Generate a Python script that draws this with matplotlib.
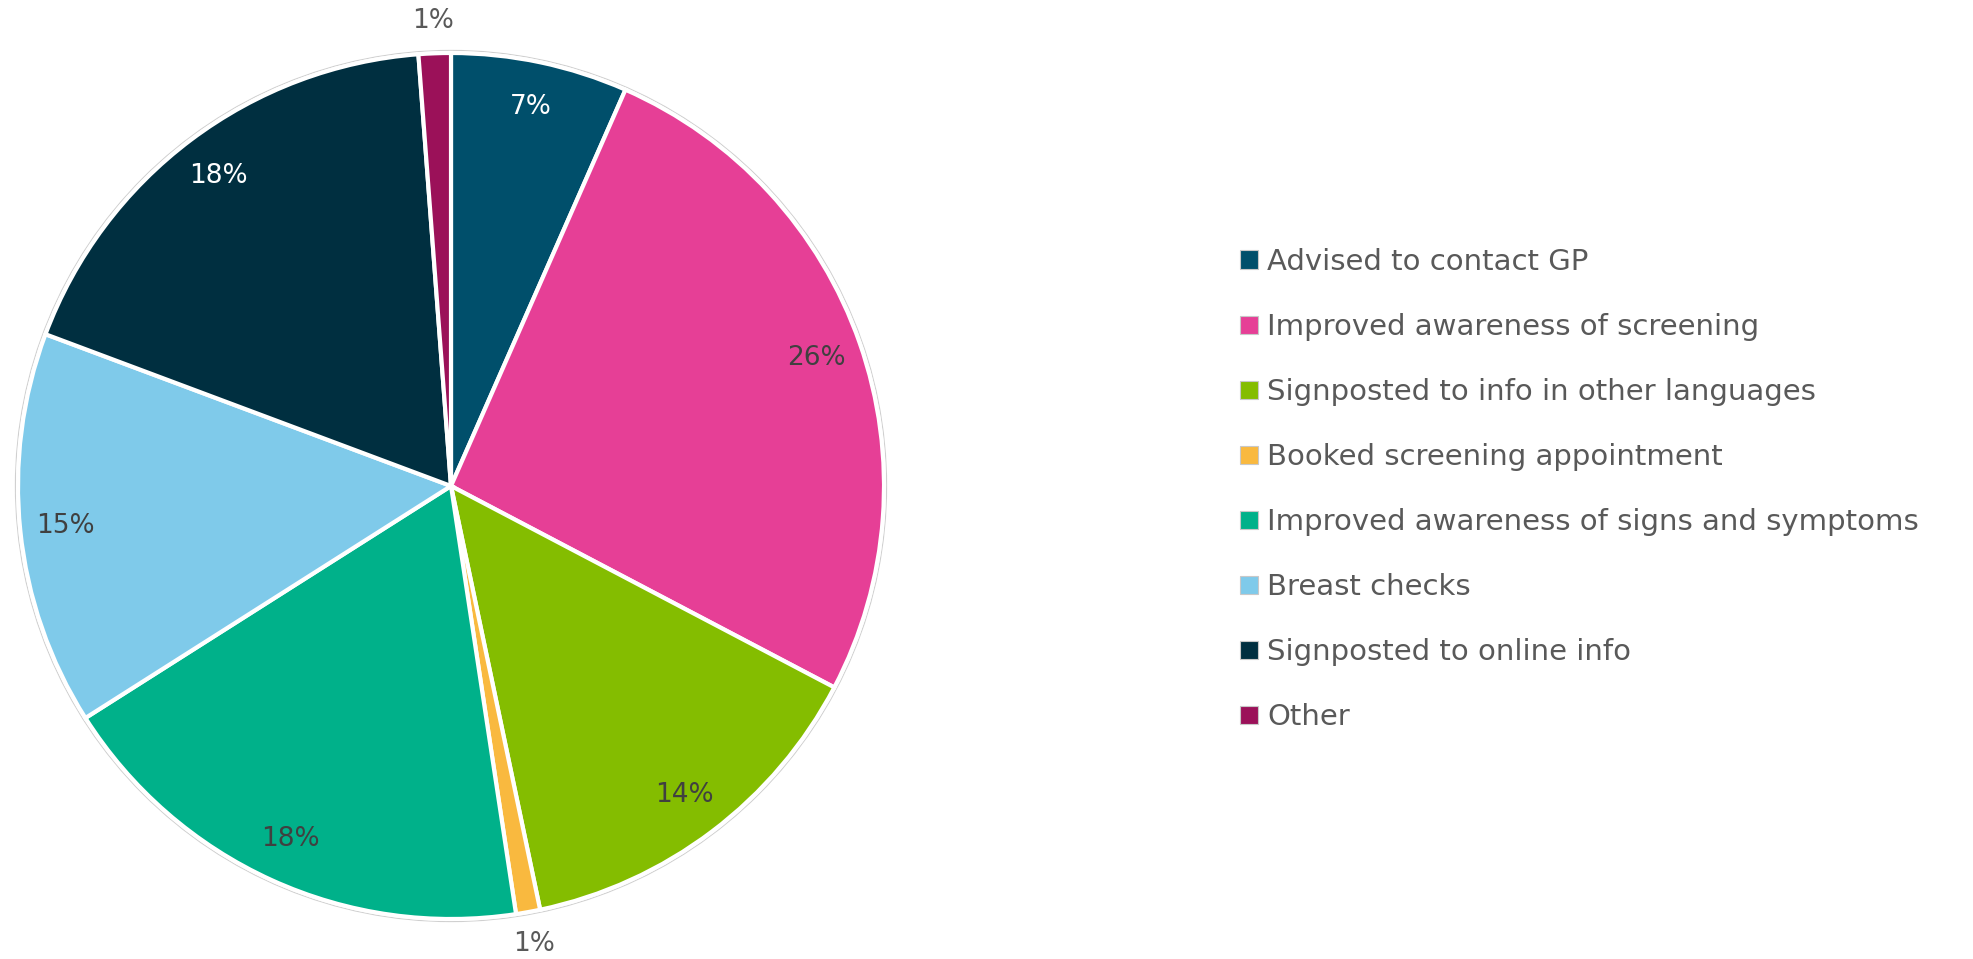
import numpy as np
import matplotlib
matplotlib.use("Agg")
import matplotlib.pyplot as plt
from matplotlib.patches import Patch, Circle

categories = [
    "Advised to contact GP",
    "Improved awareness of screening",
    "Signposted to info in other languages",
    "Booked screening appointment",
    "Improved awareness of signs and symptoms",
    "Breast checks",
    "Signposted to online info",
    "Other",
]
values = [6.6, 26.1, 14.0, 0.9, 18.4, 14.7, 18.1, 1.2]
colors = ["#004F6B", "#E63F96", "#84BD00", "#F9B93F", "#00B18A", "#7FCAEA", "#002F40", "#9B1159"]
label_colors = ["white", "#404040", "#404040", "#595959", "#404040", "#404040", "white", "#595959"]

plt.rcParams['font.family'] = ['DejaVu Sans']

W, H = 1973, 959
fig = plt.figure(figsize=(W / 100, H / 100), dpi=100)

cx, cy, r = 451, 486, 433
half = 470
lim = half / r
ax = fig.add_axes([(cx - half) / W, (H - cy - half) / H, 2 * half / W, 2 * half / H])

# faint outer ring
ax.add_patch(Circle((0, 0), 1.006, fill=False, edgecolor='#d0d0d0', lw=0.8, zorder=0))

wedges, texts, autotexts = ax.pie(
    values, colors=colors, startangle=90, counterclock=False,
    autopct='%.0f%%', pctdistance=0.895, radius=1,
    wedgeprops=dict(edgecolor='white', linewidth=3),
    textprops=dict(fontsize=19),
)
ax.set_xlim(-lim, lim)
ax.set_ylim(-lim, lim)
ax.set_aspect('equal')
ax.axis('off')

for w, t, c, v in zip(wedges, autotexts, label_colors, values):
    t.set_color(c)
    if v < 3:
        ang = np.deg2rad((w.theta1 + w.theta2) / 2)
        t.set_position((1.075 * np.cos(ang), 1.075 * np.sin(ang)))

handles = [Patch(facecolor=c, edgecolor='#c8c8c8', linewidth=0.8) for c in colors]
leg = fig.legend(handles, categories, loc='upper left',
                 bbox_to_anchor=(1240 / W, 1 - 248 / H), frameon=False,
                 fontsize=21, labelcolor='#595959',
                 handlelength=0.6, handleheight=0.6, handletextpad=0.33,
                 labelspacing=1.27, borderaxespad=0, borderpad=0)

fig.savefig('out.png', dpi=100, facecolor='white')
